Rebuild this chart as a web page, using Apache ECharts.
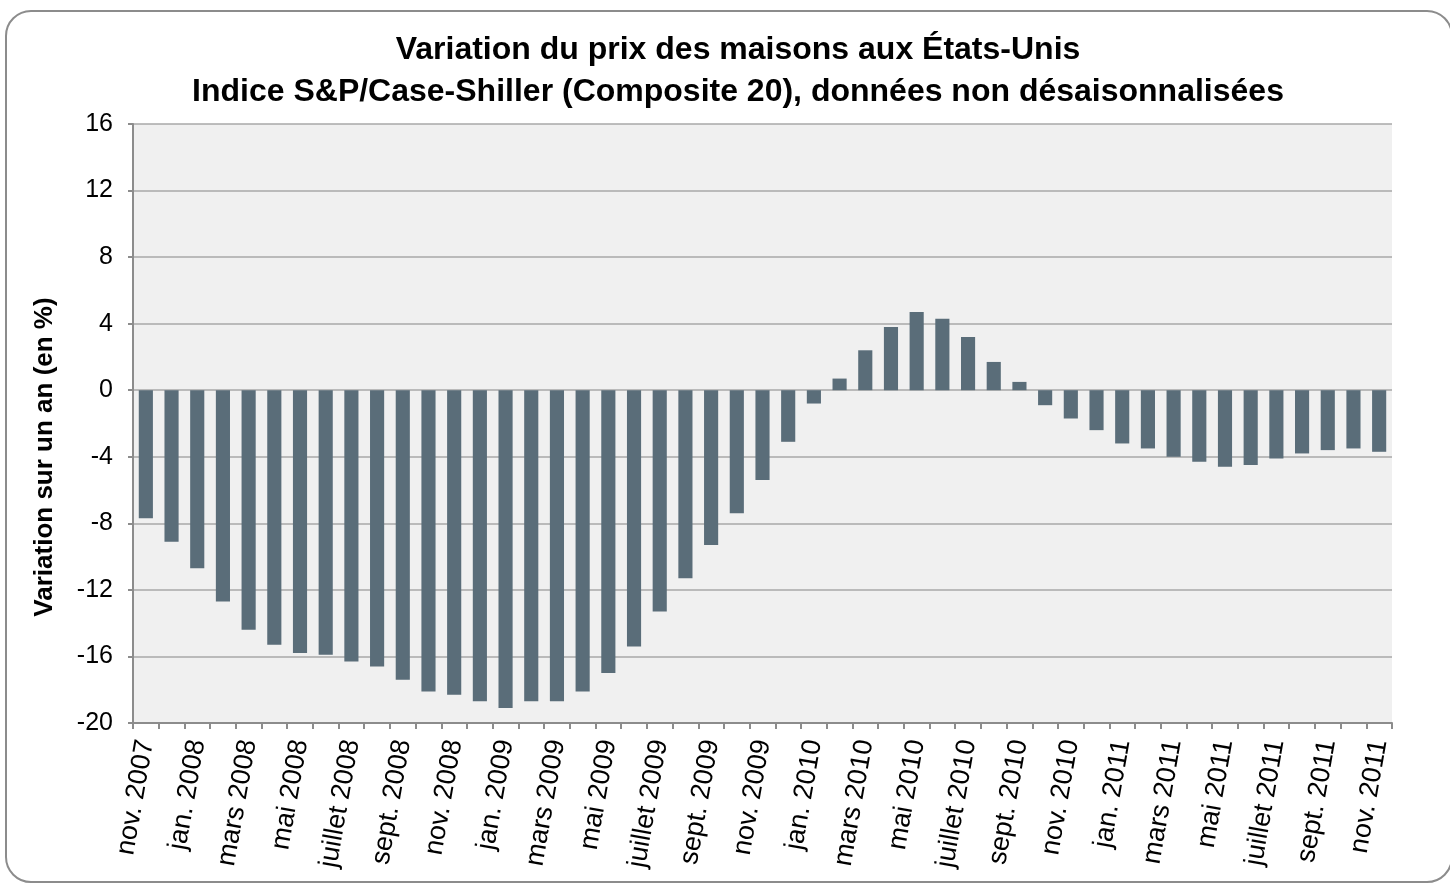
<!DOCTYPE html>
<html>
<head>
<meta charset="utf-8">
<script src="https://cdn.jsdelivr.net/npm/echarts@6/dist/echarts.min.js"></script>
<style>
  html, body { margin: 0; padding: 0; background: #fff; }
  #chart { width: 1450px; height: 883px; }
</style>
</head>
<body>
<div id="chart"></div>
<script>
const monthNames = ["jan.", "févr.", "mars", "avr.", "mai", "juin", "juillet", "août", "sept.", "oct.", "nov.", "déc."];

// yearly change in %, nov. 2007 -> nov. 2011
const changes = [
  -7.7, -9.1, -10.7, -12.7, -14.4, -15.3, -15.8, -15.9, -16.3, -16.6,
  -17.4, -18.1, -18.3, -18.7, -19.1, -18.7, -18.7, -18.1, -17.0, -15.4,
  -13.3, -11.3, -9.3, -7.4, -5.4, -3.1, -0.8, 0.7, 2.4, 3.8,
  4.7, 4.3, 3.2, 1.7, 0.5, -0.9, -1.7, -2.4, -3.2, -3.5,
  -4.0, -4.3, -4.6, -4.5, -4.1, -3.8, -3.6, -3.5, -3.7
];

const yTicks = [-20, -16, -12, -8, -4, 0, 4, 8, 12, 16];

// month labels starting at nov. 2007
const months = [];
for (let i = 0; i < changes.length; i++) {
  const m = (10 + i) % 12;
  const y = 2007 + Math.floor((10 + i) / 12);
  months.push(monthNames[m] + " " + y);
}

const font = "Liberation Sans, Arial, sans-serif";
const chart = echarts.init(document.getElementById("chart"));

chart.setOption({
  backgroundColor: "#fff",
  animation: false,
  textStyle: { fontFamily: font },
  title: {
    text: "Variation du prix des maisons aux États-Unis\nIndice S&P/Case-Shiller (Composite 20), données non désaisonnalisées",
    left: 733,
    top: 24,
    textAlign: "center",
    textStyle: {
      fontFamily: font,
      fontSize: 32,
      fontWeight: "bold",
      color: "#000",
      lineHeight: 42,
    },
  },
  graphic: [
    {
      type: "rect",
      shape: { x: 6, y: 11, width: 1446, height: 871, r: 25 },
      style: { fill: "none", stroke: "#8c8c8c", lineWidth: 2 },
      z: -1,
    },
    {
      type: "text",
      x: 45,
      y: 457,
      rotation: Math.PI / 2,
      style: {
        text: "Variation sur un an (en %)",
        font: "bold 26px " + font,
        fill: "#000",
        textAlign: "center",
        textVerticalAlign: "middle",
      },
    },
  ],
  grid: {
    left: 133,
    right: 58,
    top: 124,
    bottom: 160,
    show: true,
    backgroundColor: "#f0f0f0",
    borderWidth: 0,
  },
  xAxis: {
    type: "category",
    data: months,
    boundaryGap: true,
    axisLine: { onZero: false, lineStyle: { color: "#8c8c8c", width: 2 } },
    axisTick: { show: true, interval: 0, length: 6, lineStyle: { color: "#8c8c8c", width: 2 } },
    axisLabel: {
      interval: 1,
      rotate: 80,
      margin: 17,
      color: "#000",
      fontSize: 27,
      fontFamily: font,
    },
  },
  yAxis: {
    type: "value",
    min: yTicks[0],
    max: yTicks[yTicks.length - 1],
    interval: 4,
    axisLine: { show: true, lineStyle: { color: "#8c8c8c", width: 2 } },
    axisTick: { show: true, length: 5, lineStyle: { color: "#8c8c8c", width: 2 } },
    axisLabel: { color: "#000", fontSize: 25, fontFamily: font, margin: 20 },
    splitLine: { lineStyle: { color: "#a8a8a8", width: 1.5 } },
  },
  series: [
    {
      type: "bar",
      data: changes,
      barCategoryGap: "45%",
      itemStyle: { color: "#5a6d79" },
    },
  ],
});
</script>
</body>
</html>
